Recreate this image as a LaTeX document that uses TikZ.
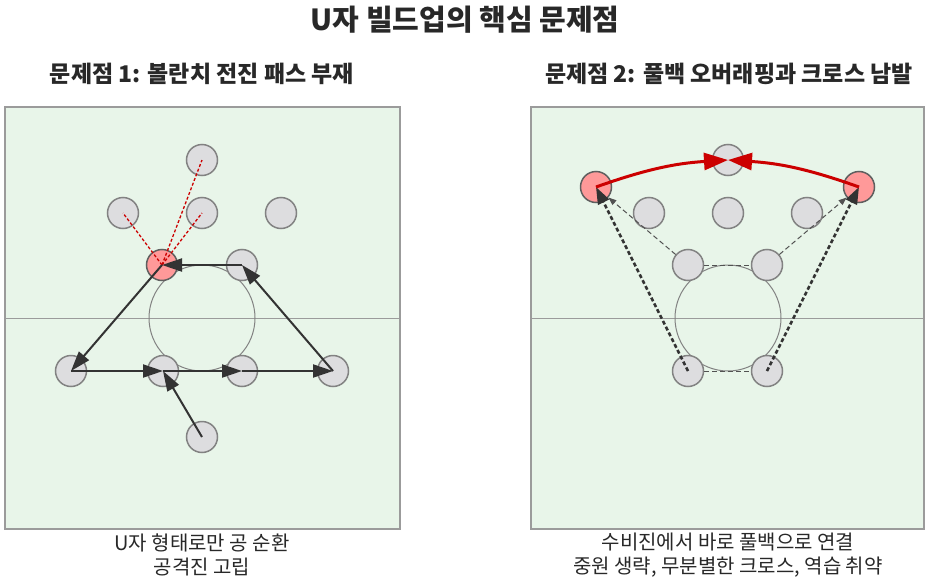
\documentclass[tikz,border=0pt]{standalone}
\usepackage{fontspec}
\setmainfont{Noto Sans CJK KR}
\usetikzlibrary{arrows.meta}
\definecolor{pitchgreen}{RGB}{232,245,233}
\definecolor{pitchline}{RGB}{155,155,155}
\definecolor{playerfill}{RGB}{221,221,223}
\definecolor{playerline}{RGB}{130,130,130}
\definecolor{hotfill}{RGB}{255,153,153}
\definecolor{hotline}{RGB}{95,95,95}
\definecolor{passcolor}{RGB}{51,51,51}
\definecolor{alertred}{RGB}{204,0,0}
\definecolor{textdark}{RGB}{40,40,40}

\begin{document}
\begin{tikzpicture}[
    x=1pt, y=-1pt,
    pitch/.style={draw=pitchline, line width=1.5pt, fill=pitchgreen},
    player/.style={circle, draw=playerline, line width=1.5pt, fill=playerfill, minimum size=31pt, inner sep=0pt},
    hot/.style={player, fill=hotfill, draw=hotline},
    pass/.style={-{Triangle[length=20pt, width=13pt]}, line width=2pt, passcolor},
    blocked/.style={alertred, line width=1.3pt, dash pattern=on 3pt off 2pt},
    cross/.style={-{Triangle[length=24pt, width=17pt]}, line width=3pt, alertred},
    longball/.style={-{Triangle[length=17pt, width=12pt]}, line width=2.5pt, passcolor, dash pattern=on 4pt off 2.5pt},
    link/.style={passcolor!85, line width=1pt, dash pattern=on 5pt off 3pt},
    title/.style={font=\bfseries\fontsize{29}{34}\selectfont, text=textdark},
    subtitle/.style={font=\bfseries\fontsize{23}{27}\selectfont, text=textdark},
    caption/.style={font=\fontsize{20}{24}\selectfont, text=textdark, align=center}
]
    \useasboundingbox[fill=white] (0,0) rectangle (930,581);

    % Titles
    \node[title] (maintitle) at (465,20) {U자 빌드업의 핵심 문제점};
    \node[subtitle] (lefttitle) at (202,74) {문제점 1: 볼란치 전진 패스 부재};
    \node[subtitle] (righttitle) at (729,74) {문제점 2: 풀백 오버래핑과 크로스 남발};

    % Pitches
    \draw[pitch] (5,107) rectangle (400,529);
    \draw[pitchline, line width=1pt] (5,318) -- (400,318);
    \draw[playerline, line width=1pt] (202,318) circle[radius=53pt];
    \draw[pitch] (531,107) rectangle (924,529);
    \draw[pitchline, line width=1pt] (531,318) -- (924,318);
    \draw[playerline, line width=1pt] (728,318) circle[radius=53pt];

    % Problem 1 players
    \node[player] (lst) at (202,160) {};
    \node[player] (llw) at (123,213) {};
    \node[player] (lam) at (202,213) {};
    \node[player] (lrw) at (281,213) {};
    \node[hot] (lvol) at (162,265) {};
    \node[player] (lcm) at (242,265) {};
    \node[player] (llb) at (71,371) {};
    \node[player] (lcb1) at (163,371) {};
    \node[player] (lcb2) at (242,371) {};
    \node[player] (lrb) at (333,371) {};
    \node[player] (lgk) at (202,437) {};

    % Problem 1 passes
    \draw[blocked] (lvol.center) -- (llw.center);
    \draw[blocked] (lvol.center) -- (lst.center);
    \draw[blocked] (lvol.center) -- (lam.center);
    \draw[pass] (lgk.center) -- (lcb1.center);
    \draw[pass] (llb.center) -- (lcb1.center);
    \draw[pass] (lcb1.center) -- (lcb2.center);
    \draw[pass] (lcb2.center) -- (lrb.center);
    \draw[pass] (lrb.center) -- (lcm.center);
    \draw[pass] (lcm.center) -- (lvol.center);
    \draw[pass] (lvol.center) -- (llb.center);

    % Problem 2 players
    \node[player] (rst) at (728,160) {};
    \node[hot] (rlb) at (596,187) {};
    \node[hot] (rrb) at (859,187) {};
    \node[player] (rlw) at (649,213) {};
    \node[player] (ram) at (728,213) {};
    \node[player] (rrw) at (807,213) {};
    \node[player] (rv1) at (688,265) {};
    \node[player] (rv2) at (767,265) {};
    \node[player] (rcb1) at (688,371) {};
    \node[player] (rcb2) at (767,371) {};

    % Problem 2 passes
    \draw[link] (rv1) -- (rv2);
    \draw[link] (rcb1) -- (rcb2);
    \draw[link, -{Triangle[length=8pt, width=6pt]}] (rv1) -- (rlb);
    \draw[link, -{Triangle[length=8pt, width=6pt]}] (rv2) -- (rrb);
    \draw[longball] (rcb1.center) -- (rlb.center);
    \draw[longball] (rcb2.center) -- (rrb.center);
    \draw[cross] (rlb.center) to[bend left=8] (rst.center);
    \draw[cross] (rrb.center) to[bend right=8] (rst.center);

    % Captions
    \node[caption] (leftnote) at (202,555) {U자 형태로만 공 순환\\공격진 고립};
    \node[caption] (rightnote) at (728,555) {수비진에서 바로 풀백으로 연결\\중원 생략, 무분별한 크로스, 역습 취약};
\end{tikzpicture}
\end{document}
